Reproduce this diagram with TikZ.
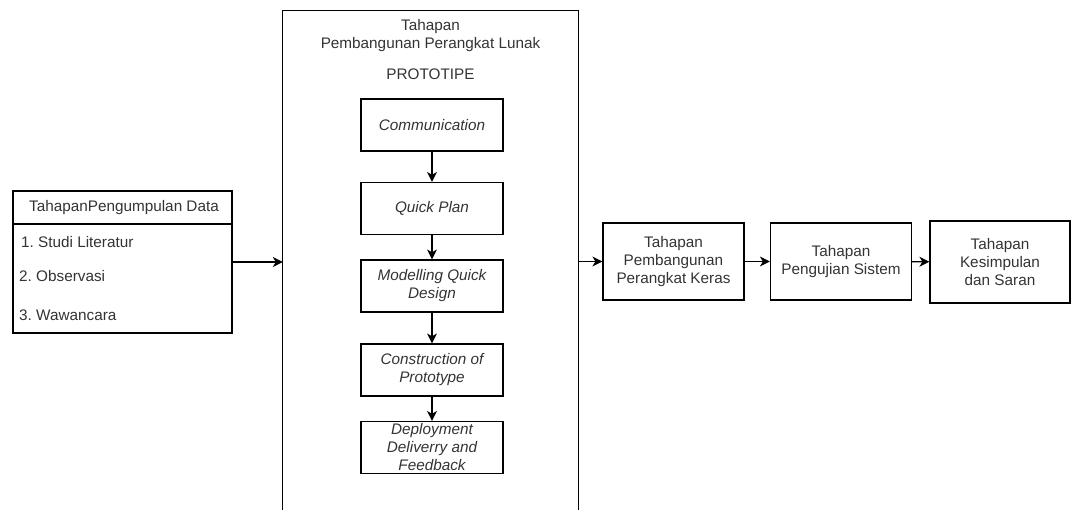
\documentclass[tikz,border=0pt]{standalone}
\usepackage{fontspec}
\setmainfont{Liberation Sans}
\usetikzlibrary{arrows.meta}
\definecolor{txt}{HTML}{333333}
\frenchspacing
\begin{document}
\begin{tikzpicture}[x=1pt,y=-1pt,
  every node/.style={font=\fontsize{15.3}{18}\selectfont, text=txt, inner sep=0pt},
  box/.style={draw=black, line width=1.2pt, align=center},
  stepbox/.style={box, minimum width=142pt, minimum height=52pt, font=\fontsize{15.3}{18}\selectfont\itshape},
  outbox/.style={box, minimum width=141pt, minimum height=77pt},
  arr/.style={-{Stealth[length=10pt,width=10pt,inset=3pt]}, line width=1.2pt, draw=black}]
\useasboundingbox (0,0) rectangle (1071,509);
% left box
\node[box, minimum width=219pt, minimum height=142pt] (left) at (122.5,262) {};
\coordinate (hl) at (13,224);
\coordinate (hr) at (232,224);
\draw[line width=1.2pt] (hl) -- (hr);
\node (lt) at (124,207.5) {TahapanPengumpulan Data};
\node[anchor=west] (l1) at (21,242) {1. Studi Literatur};
\node[anchor=west] (l2) at (19,276) {2. Observasi};
\node[anchor=west] (l3) at (19,315) {3. Wawancara};
% big box
\node[minimum width=295pt, minimum height=530pt] (big) at (430.5,276) {};
\draw[line width=1.2pt] (big.south west) -- (big.north west) -- (big.north east) -- (big.south east);
\node[align=center] (bt) at (430.5,35.5) {Tahapan\\Pembangunan Perangkat Lunak};
\node (proto) at (430.5,74) {PROTOTIPE};
\node[stepbox] (s1) at (432,125) {Communication};
\node[stepbox] (s2) at (432,208.5) {Quick Plan};
\node[stepbox] (s3) at (432,286) {Modelling Quick\\Design};
\node[stepbox] (s4) at (432,370) {Construction of\\Prototype};
\node[stepbox] (s5) at (432,447.5) {Deployment\\Deliverry and\\Feedback};
\draw[arr] (s1) -- (s2);
\draw[arr] (s2) -- (s3);
\draw[arr] (s3) -- (s4);
\draw[arr] (s4) -- (s5);
% right boxes
\node[outbox] (r1) at (673.5,261.5) {Tahapan\\Pembangunan\\Perangkat Keras};
\node[outbox] (r2) at (841,261.5) {Tahapan\\Pengujian Sistem};
\node[box, minimum width=140pt, minimum height=82pt] (r3) at (1000,262) {Tahapan\\Kesimpulan\\dan Saran};
\draw[arr] (left.east) -- (big.west |- left.east);
\draw[arr] (big.east |- r1.west) -- (r1.west);
\draw[arr] (r1) -- (r2);
\draw[arr] (r2) -- (r3);
\end{tikzpicture}
\end{document}
